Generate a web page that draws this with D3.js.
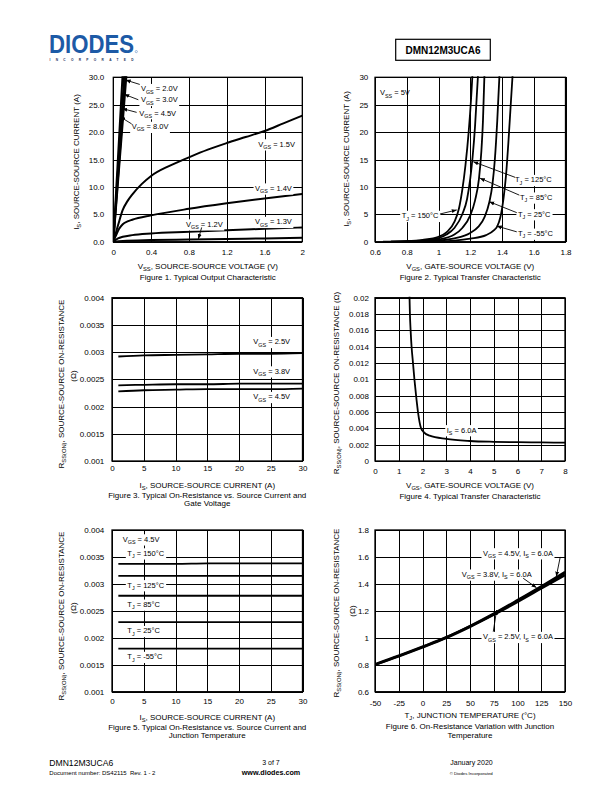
<!DOCTYPE html>
<html><head><meta charset="utf-8">
<script src="https://cdn.jsdelivr.net/npm/d3@7"></script>
<style>
body{margin:0;background:#fff}
svg{display:block;font-family:"Liberation Sans",Arial,Helvetica,sans-serif}
</style></head><body>
<svg id="page" width="612" height="792"></svg>
<script>
// ================= DATA =================
// Figure 1 – Typical Output Characteristic  [V_SS (V), I_S (A)]
const fig1XTicks = [0,0.4,0.8,1.2,1.6,2];
const fig1XLabels = ["0","0.4","0.8","1.2","1.6","2"];
const fig1YTicks = [0,5,10,15,20,25,30];
const fig1YLabels = ["0.0","5.0","10.0","15.0","20.0","25.0","30.0"];
const fig1Vgs80 = [[0,0],[0.05,15.5],[0.1,31]];
const fig1Vgs45 = [[0,0],[0.059,15.5],[0.118,31]];
const fig1Vgs30 = [[0,0],[0.066,15.5],[0.132,31]];
const fig1Vgs20 = [[0,0],[0.071,15.5],[0.142,31]];
const fig1Vgs15 = [[0,0],[0.05,3.0],[0.1,5.8],[0.15,7.4],[0.2,8.6],[0.3,10.5],[0.4,12],[0.6,13.9],[0.8,15.4],[1.0,16.8],[1.2,18],[1.4,19.1],[1.6,20.2],[1.8,21.6],[2,23]];
const fig1Vgs14 = [[0,0],[0.03,1.2],[0.06,2.3],[0.1,3.2],[0.15,3.7],[0.2,4.0],[0.4,4.8],[0.8,6.0],[1.2,7.0],[1.6,7.9],[2,8.7]];
const fig1Vgs13 = [[0,0],[0.05,0.6],[0.1,0.9],[0.2,1.2],[0.4,1.5],[0.8,1.8],[1.2,2.1],[1.6,2.35],[2,2.6]];
const fig1Vgs12 = [[0,0],[0.1,0.15],[0.4,0.3],[0.8,0.4],[1.2,0.5],[1.6,0.6],[2,0.7]];

// Figure 2 – Typical Transfer Characteristic  [V_GS (V), I_S (A)]
const fig2XTicks = [0.6,0.8,1,1.2,1.4,1.6,1.8];
const fig2XLabels = ["0.6","0.8","1","1.2","1.4","1.6","1.8"];
const fig2YTicks = [0,5,10,15,20,25,30];
const fig2YLabels = ["0","5","10","15","20","25","30"];
const fig2T150 = [[0.65,0.02],[0.8,0.12],[0.9,0.35],[1.0,0.9],[1.05,1.7],[1.1,3.6],[1.13,6.2],[1.15,9.5],[1.17,14],[1.19,20],[1.205,26],[1.215,31]];
const fig2T125 = [[0.7,0.02],[0.8,0.08],[0.9,0.25],[1.0,0.65],[1.05,1.3],[1.1,2.5],[1.15,5],[1.18,7.8],[1.2,11.5],[1.215,15.5],[1.23,21],[1.24,26],[1.25,31]];
const fig2T85 = [[0.7,0.01],[0.8,0.05],[0.9,0.15],[1.0,0.4],[1.1,1.3],[1.15,2.5],[1.2,4.8],[1.23,7.5],[1.255,11.5],[1.27,16.5],[1.28,22],[1.29,31]];
const fig2T25 = [[0.8,0.01],[0.9,0.06],[1.0,0.2],[1.1,0.6],[1.2,1.6],[1.25,2.7],[1.29,4.5],[1.32,7.2],[1.34,10.5],[1.355,15],[1.37,22],[1.385,31]];
const fig2Tm55 = [[0.9,0.01],[1.0,0.05],[1.1,0.2],[1.2,0.55],[1.3,1.2],[1.35,2.1],[1.37,2.8],[1.39,4.5],[1.41,8],[1.425,12],[1.44,18],[1.455,25],[1.468,31]];

// Figure 3 – On-Resistance vs Source Current and Gate Voltage
const fig3XTicks = [0,5,10,15,20,25,30];
const fig3XLabels = ["0","5","10","15","20","25","30"];
const fig3YTicks = [0.001,0.0015,0.002,0.0025,0.003,0.0035,0.004];
const fig3YLabels = ["0.001","0.0015","0.002","0.0025","0.003","0.0035","0.004"];
const fig3Current = [1,5,10,15,20,25,30];
const fig3Vgs25 = [0.00292,0.00294,0.00295,0.00296,0.00297,0.00297,0.00298];
const fig3Vgs38 = [0.00239,0.0024,0.00241,0.00241,0.00242,0.00242,0.00242];
const fig3Vgs45 = [0.00228,0.0023,0.00231,0.00232,0.00232,0.00232,0.00233];

// Figure 4 – R_SS(ON) vs V_GS
const fig4XTicks = [0,1,2,3,4,5,6,7,8];
const fig4XLabels = ["0","1","2","3","4","5","6","7","8"];
const fig4YTicks = [0,0.002,0.004,0.006,0.008,0.01,0.012,0.014,0.016,0.018,0.02];
const fig4YLabels = ["0","0.002","0.004","0.006","0.008","0.01","0.012","0.014","0.016","0.018","0.02"];
const fig4Is6 = [[1.45,0.0205],[1.47,0.018],[1.5,0.016],[1.54,0.014],[1.6,0.012],[1.66,0.01],[1.73,0.008],[1.81,0.006],[1.94,0.004],[2.03,0.0036],[2.3,0.0031],[3,0.0027],[4,0.00245],[5,0.00235],[6,0.0023],[7,0.00227],[8,0.00225]];

// Figure 5 – On-Resistance vs Source Current and Junction Temperature
const fig5Current = [1,5,10,15,20,25,30];
const fig5T150 = [0.00337,0.00337,0.00337,0.00338,0.00338,0.00338,0.00338];
const fig5T125 = [0.00315,0.00315,0.00315,0.00315,0.00315,0.00315,0.00315];
const fig5T85 = [0.00278,0.00278,0.00278,0.00278,0.00278,0.00278,0.00278];
const fig5T25 = [0.00229,0.00229,0.00229,0.00229,0.00229,0.00229,0.00229];
const fig5Tm55 = [0.0018,0.0018,0.0018,0.0018,0.0018,0.0018,0.0018];

// Figure 6 – On-Resistance Variation with Junction Temperature
const fig6XTicks = [-50,-25,0,25,50,75,100,125,150];
const fig6XLabels = ["-50","-25","0","25","50","75","100","125","150"];
const fig6YTicks = [0.6,0.8,1,1.2,1.4,1.6,1.8];
const fig6YLabels = ["0.6","0.8","1","1.2","1.4","1.6","1.8"];
const fig6Temp = [-50,-25,0,25,50,75,100,125,150];
const fig6Vgs45 = [0.8,0.865,0.932,1.003,1.085,1.175,1.275,1.375,1.48];
const fig6Vgs38 = [0.8,0.862,0.928,0.998,1.08,1.17,1.265,1.365,1.465];
const fig6Vgs25 = [0.805,0.868,0.935,1.005,1.088,1.18,1.28,1.383,1.49];

// ================= DRAWING =================
const svg = d3.select("#page");
const zip = (xs, ys) => xs.map((v,i)=>[v, ys[i]]);

svg.append("defs").append("marker")
  .attr("id","arrow").attr("viewBox","0 0 10 10").attr("refX",10).attr("refY",5)
  .attr("markerWidth",5).attr("markerHeight",5).attr("markerUnits","userSpaceOnUse")
  .attr("orient","auto")
  .append("path").attr("d","M0,1 L10,5 L0,9 z").attr("fill","#000");

function rich(t, str, size){
  const parts = str.split(/(_\{[^}]*\})/).filter(p=>p.length);
  const sh = size*0.3;
  let shifted = false;
  parts.forEach(p=>{
    const ts = t.append("tspan");
    if(p.startsWith("_{")){
      ts.text(p.slice(2,-1)).attr("font-size", size*0.72).attr("dy", shifted?0:sh);
      shifted = true;
    } else {
      ts.text(p).attr("dy", shifted?-sh:0);
      shifted = false;
    }
  });
  return t;
}

function chart(c){
  const [L,R,T,B] = c.box;
  const x = d3.scaleLinear().domain(c.xDomain).range([L,R]);
  const y = d3.scaleLinear().domain(c.yDomain).range([B,T]);
  const g = svg.append("g");
  const clipId = "clip"+c.id;
  svg.select("defs").append("clipPath").attr("id",clipId)
    .append("rect").attr("x",L).attr("y",T-1).attr("width",R-L).attr("height",B-T+1);

  const gx = g.append("g").attr("transform",`translate(0,${B})`)
    .call(d3.axisBottom(x).tickValues(c.xTicks).tickFormat((d,i)=>c.xLabels[i])
      .tickSize(-(B-T)).tickPadding(c.xPad));
  gx.select(".domain").remove();
  gx.attr("font-size",8).attr("font-family",null);
  gx.selectAll("line").attr("stroke","#000").attr("stroke-width",1).attr("shape-rendering","crispEdges");
  gx.selectAll("text").attr("fill","#000");

  const gy = g.append("g").attr("transform",`translate(${L},0)`)
    .call(d3.axisLeft(y).tickValues(c.yTicks).tickFormat((d,i)=>c.yLabels[i])
      .tickSize(-(R-L)).tickPadding(c.yPad));
  gy.select(".domain").remove();
  gy.attr("font-size",8).attr("font-family",null);
  gy.selectAll("line").attr("stroke","#000").attr("stroke-width",1).attr("shape-rendering","crispEdges");
  gy.selectAll("text").attr("fill","#000");

  g.append("rect").attr("x",L).attr("y",T).attr("width",R-L).attr("height",B-T)
    .attr("fill","none").attr("stroke","#000").attr("stroke-width",1.3);

  const line = d3.line().x(d=>x(d[0])).y(d=>y(d[1])).curve(d3.curveMonotoneX);
  c.series.forEach(s=>{
    g.append("path").attr("d",line(s)).attr("fill","none").attr("stroke","#000")
      .attr("stroke-width",c.lw).attr("stroke-linejoin","round")
      .attr("clip-path",`url(#${clipId})`);
  });

  (c.labels||[]).forEach(l=>{
    const lg = g.append("g");
    const size = 7.5;
    const t = lg.append("text").attr("x",x(l.x)).attr("y",y(l.y)+size*0.35)
      .attr("font-size",size).attr("fill","#000");
    rich(t, l.t, size);
    if(l.bg){
      const bb = t.node().getBBox();
      lg.insert("rect","text").attr("x",bb.x-1.5).attr("y",bb.y-0.5)
        .attr("width",bb.width+3).attr("height",bb.height+1).attr("fill","#fff");
    }
  });

  (c.arrows||[]).forEach(a=>{
    g.append("line").attr("x1",x(a[0][0])).attr("y1",y(a[0][1]))
      .attr("x2",x(a[1][0])).attr("y2",y(a[1][1]))
      .attr("stroke","#000").attr("stroke-width",0.9).attr("marker-end","url(#arrow)");
  });

  c.yTitle.forEach(tt=>{
    const t = g.append("text").attr("transform",`translate(${tt.x},${tt.cy}) rotate(-90)`)
      .attr("y",2.8).attr("text-anchor","middle").attr("font-size",8).attr("fill","#000");
    rich(t, tt.t, 8);
  });
  const cx = (L+R)/2;
  const xt = g.append("text").attr("x",cx).attr("y",c.xTitleY+2.8).attr("text-anchor","middle")
    .attr("font-size",8).attr("fill","#000");
  rich(xt, c.xTitle, 8);
  c.caption.forEach((cap,i)=>{
    g.append("text").attr("x",cx).attr("y",c.captionY[i]+2.8).attr("text-anchor","middle")
      .attr("font-size",8).attr("fill","#000").text(cap);
  });
}

const RS_TITLE = "R_{SS(ON)}, SOURCE-SOURCE ON-RESISTANCE";

chart({
  id:1, box:[113.3,302.3,77.3,241.7], xDomain:[0,2], yDomain:[0,30],
  xTicks:fig1XTicks, xLabels:fig1XLabels, yTicks:fig1YTicks, yLabels:fig1YLabels,
  xPad:7.2, yPad:9, lw:2,
  series:[fig1Vgs80,fig1Vgs45,fig1Vgs30,fig1Vgs20,fig1Vgs15,fig1Vgs14,fig1Vgs13,fig1Vgs12],
  labels:[
    {t:"V_{GS} = 2.0V",x:0.292,y:27.9,bg:true},
    {t:"V_{GS} = 3.0V",x:0.292,y:25.9,bg:true},
    {t:"V_{GS} = 4.5V",x:0.275,y:23.5,bg:true},
    {t:"V_{GS} = 8.0V",x:0.194,y:21.0,bg:true},
    {t:"V_{GS} = 1.5V",x:1.534,y:17.8,bg:true},
    {t:"V_{GS} = 1.4V",x:1.5,y:9.75,bg:true},
    {t:"V_{GS} = 1.2V",x:0.769,y:3.2,bg:true},
    {t:"V_{GS} = 1.3V",x:1.5,y:3.65,bg:true}
  ],
  arrows:[[[0.28,28.7],[0.131,29.5]],[[0.265,25.9],[0.116,26.9]],[[0.247,23.6],[0.095,24.3]],[[0.194,21.5],[0.071,22.8]],[[0.935,2.6],[0.9,0.5]]],
  yTitle:[{t:"I_{S}, SOURCE-SOURCE CURRENT (A)",x:76,cy:162}],
  xTitle:"V_{SS}, SOURCE-SOURCE VOLTAGE (V)", xTitleY:266,
  caption:["Figure 1. Typical Output Characteristic"], captionY:[277.3]
});

chart({
  id:2, box:[375,565.5,77.3,241.7], xDomain:[0.6,1.8], yDomain:[0,30],
  xTicks:fig2XTicks, xLabels:fig2XLabels, yTicks:fig2YTicks, yLabels:fig2YLabels,
  xPad:7.2, yPad:6.7, lw:1.8,
  series:[fig2T150,fig2T125,fig2T85,fig2T25,fig2Tm55],
  labels:[
    {t:"V_{SS} = 5V",x:0.631,y:27.2,bg:false},
    {t:"T_{J} = 125°C",x:1.482,y:11.3,bg:true},
    {t:"T_{J} = 85°C",x:1.513,y:8.1,bg:true},
    {t:"T_{J} = 25°C",x:1.5,y:5.05,bg:true},
    {t:"T_{J} = -55°C",x:1.5,y:1.5,bg:true},
    {t:"T_{J} = 150°C",x:0.768,y:4.75,bg:true}
  ],
  arrows:[[[1.482,11.75],[1.219,14.6]],[[1.509,8.5],[1.261,11.6]],[[1.493,5.3],[1.32,7.3]],[[1.493,1.8],[1.367,2.85]],[[1.009,5.05],[1.115,5.8]]],
  yTitle:[{t:"I_{S}, SOURCE-SOURCE CURRENT (A)",x:346,cy:159}],
  xTitle:"V_{GS}, GATE-SOURCE VOLTAGE (V)", xTitleY:266,
  caption:["Figure 2. Typical Transfer Characteristic"], captionY:[277.3]
});

chart({
  id:3, box:[112,302.5,297.7,461], xDomain:[0,30], yDomain:[0.001,0.004],
  xTicks:fig3XTicks, xLabels:fig3XLabels, yTicks:fig3YTicks, yLabels:fig3YLabels,
  xPad:4.5, yPad:7.7, lw:1.8,
  series:[zip(fig3Current,fig3Vgs25),zip(fig3Current,fig3Vgs38),zip(fig3Current,fig3Vgs45)],
  labels:[
    {t:"V_{GS} = 2.5V",x:22.25,y:0.00319,bg:true},
    {t:"V_{GS} = 3.8V",x:22.25,y:0.00265,bg:true},
    {t:"V_{GS} = 4.5V",x:22.25,y:0.00218,bg:true}
  ],
  yTitle:[{t:RS_TITLE,x:60.7,cy:384},{t:"(Ω)",x:73.3,cy:376}],
  xTitle:"I_{S}, SOURCE-SOURCE CURRENT (A)", xTitleY:485,
  caption:["Figure 3. Typical On-Resistance vs. Source Current and","Gate Voltage"], captionY:[495,503.3]
});

chart({
  id:4, box:[375,565,297.7,461], xDomain:[0,8], yDomain:[0,0.02],
  xTicks:fig4XTicks, xLabels:fig4XLabels, yTicks:fig4YTicks, yLabels:fig4YLabels,
  xPad:6.9, yPad:6, lw:1.8,
  series:[fig4Is6],
  labels:[{t:"I_{S} = 6.0A",x:3.02,y:0.0038,bg:true}],
  yTitle:[{t:RS_TITLE+" (Ω)",x:336,cy:383}],
  xTitle:"V_{GS}, GATE-SOURCE VOLTAGE (V)", xTitleY:485,
  caption:["Figure 4. Typical Transfer Characteristic"], captionY:[495.7]
});

chart({
  id:5, box:[112,302.5,530,691.7], xDomain:[0,30], yDomain:[0.001,0.004],
  xTicks:fig3XTicks, xLabels:fig3XLabels, yTicks:fig3YTicks, yLabels:fig3YLabels,
  xPad:6.2, yPad:7.7, lw:1.8,
  series:[zip(fig5Current,fig5T150),zip(fig5Current,fig5T125),zip(fig5Current,fig5T85),zip(fig5Current,fig5T25),zip(fig5Current,fig5Tm55)],
  labels:[
    {t:"V_{GS} = 4.5V",x:1.69,y:0.00383,bg:true},
    {t:"T_{J} = 150°C",x:2.41,y:0.00357,bg:true},
    {t:"T_{J} = 125°C",x:2.41,y:0.00298,bg:true},
    {t:"T_{J} = 85°C",x:2.41,y:0.00262,bg:true},
    {t:"T_{J} = 25°C",x:2.41,y:0.00213,bg:true},
    {t:"T_{J} = -55°C",x:2.41,y:0.00165,bg:true}
  ],
  yTitle:[{t:RS_TITLE,x:60.7,cy:616},{t:"(Ω)",x:73.3,cy:608}],
  xTitle:"I_{S}, SOURCE-SOURCE CURRENT (A)", xTitleY:716.7,
  caption:["Figure 5. Typical On-Resistance vs. Source Current and","Junction Temperature"], captionY:[726.7,735]
});

chart({
  id:6, box:[375,565,530,691.7], xDomain:[-50,150], yDomain:[0.6,1.8],
  xTicks:fig6XTicks, xLabels:fig6XLabels, yTicks:fig6YTicks, yLabels:fig6YLabels,
  xPad:8.2, yPad:6, lw:2.2,
  series:[zip(fig6Temp,fig6Vgs45),zip(fig6Temp,fig6Vgs38),zip(fig6Temp,fig6Vgs25)],
  labels:[
    {t:"V_{GS} = 4.5V, I_{S} = 6.0A",x:63.7,y:1.629,bg:true},
    {t:"V_{GS} = 3.8V, I_{S} = 6.0A",x:41.3,y:1.471,bg:true},
    {t:"V_{GS} = 2.5V, I_{S} = 6.0A",x:63.7,y:1.008,bg:true}
  ],
  arrows:[[[145,1.6],[140.8,1.454]],[[106,1.442],[120,1.372]],[[74.5,1.045],[78,1.206]]],
  yTitle:[{t:RS_TITLE,x:336,cy:613},{t:"(Ω)",x:352,cy:611}],
  xTitle:"T_{J}, JUNCTION TEMPERATURE (°C)", xTitleY:715,
  caption:["Figure 6. On-Resistance Variation with Junction","Temperature"], captionY:[726,735]
});

// ================= HEADER =================
svg.append("text").attr("x",49).attr("y",52.7).attr("font-size",25).attr("font-weight","bold")
  .attr("fill","#1c5aa6").attr("textLength",85).attr("lengthAdjust","spacingAndGlyphs")
  .text("DIODES");
svg.append("circle").attr("cx",136.3).attr("cy",51.6).attr("r",1.1).attr("fill","none")
  .attr("stroke","#1c5aa6").attr("stroke-width",0.4);
svg.append("text").attr("x",49.5).attr("y",60.8).attr("font-size",3.2).attr("font-weight","bold")
  .attr("fill","#1a2f5a").attr("textLength",84).attr("lengthAdjust","spacing").text("INCORPORATED");
svg.append("rect").attr("x",395.7).attr("y",39.3).attr("width",94.6).attr("height",21)
  .attr("fill","none").attr("stroke","#000").attr("stroke-width",1.2);
svg.append("text").attr("x",443).attr("y",53.5).attr("text-anchor","middle").attr("font-size",10)
  .attr("font-weight","bold").attr("fill","#000").text("DMN12M3UCA6");

// ================= FOOTER =================
svg.append("text").attr("x",49.3).attr("y",766).attr("font-size",8.6).attr("fill","#000").text("DMN12M3UCA6");
svg.append("text").attr("x",49.3).attr("y",775).attr("font-size",6).attr("fill","#000").attr("xml:space","preserve").text("Document number: DS42115  Rev. 1 - 2");
svg.append("text").attr("x",271).attr("y",765.3).attr("text-anchor","middle").attr("font-size",7).attr("fill","#000").text("3 of 7");
svg.append("text").attr("x",271).attr("y",775).attr("text-anchor","middle").attr("font-size",7.2).attr("font-weight","bold").attr("fill","#000").text("www.diodes.com");
svg.append("text").attr("x",492.7).attr("y",765.3).attr("text-anchor","end").attr("font-size",7).attr("fill","#000").text("January 2020");
svg.append("text").attr("x",492.7).attr("y",774.5).attr("text-anchor","end").attr("font-size",4.3).attr("fill","#000").text("© Diodes Incorporated");
</script>
</body></html>
